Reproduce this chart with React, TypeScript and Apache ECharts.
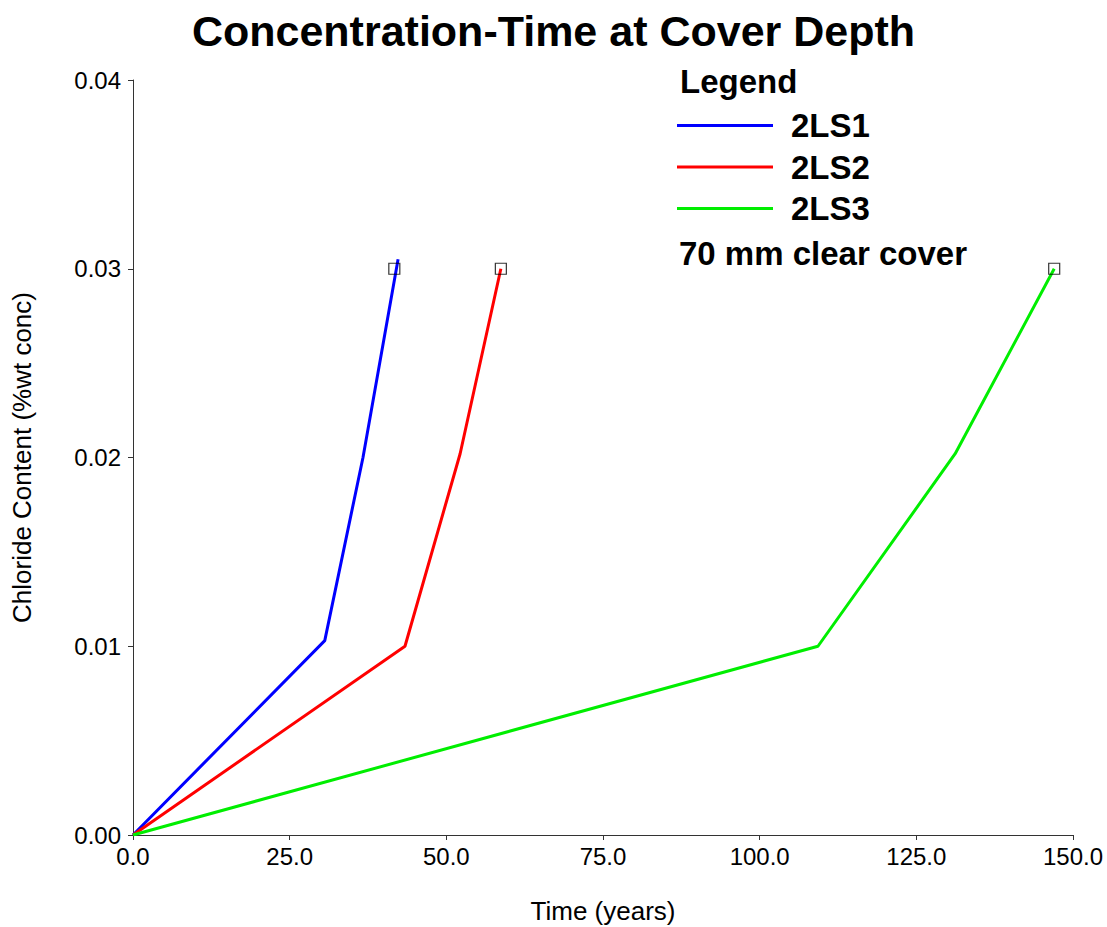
import React, { useEffect, useRef } from "react";
import * as echarts from "echarts";

const seriesNames = ["2LS1", "2LS2", "2LS3"];
const seriesColors = ["#0000ff", "#ff0000", "#00ee00"];
const ls1: [number, number][] = [[0, 0], [30.6, 0.0103], [36.7, 0.0200], [42.3, 0.0305]];
const ls2: [number, number][] = [[0, 0], [43.4, 0.0100], [52.2, 0.0202], [58.7, 0.0300]];
const ls3: [number, number][] = [[0, 0], [109.3, 0.0100], [131.2, 0.0202], [147.0, 0.0300]];
const markers: [number, number][] = [[41.7, 0.03], [58.7, 0.03], [147.0, 0.03]];
const legendTitle = "Legend";
const legendNote = "70 mm clear cover";

export default function App() {
  const ref = useRef<HTMLDivElement>(null);
  useEffect(() => {
    document.body.style.margin = "0";
    const chart = echarts.init(ref.current!, null, { renderer: "svg" });
    const font = "'Liberation Sans', Arial, sans-serif";
    const axisColor = "#333";
    const lines = [ls1, ls2, ls3];
    chart.setOption({
      animation: false,
      backgroundColor: "#fff",
      textStyle: { fontFamily: font },
      title: {
        text: "Concentration-Time at Cover Depth",
        left: "center",
        top: 4,
        textStyle: { fontSize: 43, fontWeight: "bold", color: "#000", fontFamily: font },
      },
      grid: { left: 133, right: 34, top: 80, bottom: 92, containLabel: false, outerBoundsMode: "none" },
      legend: {
        data: seriesNames,
        orient: "vertical",
        left: 672,
        top: 104,
        icon: "rect",
        itemWidth: 96,
        itemHeight: 3,
        itemGap: 8.5,
        textStyle: {
          fontSize: 33,
          lineHeight: 33,
          fontWeight: "bold",
          color: "#000",
          padding: [0, 0, 0, 13],
          fontFamily: font,
        },
      },
      graphic: [
        { type: "text", left: 680, top: 65, style: { text: legendTitle, font: `bold 33px ${font}`, fill: "#000" } },
        { type: "text", left: 679, top: 237, style: { text: legendNote, font: `bold 33px ${font}`, fill: "#000" } },
      ],
      xAxis: {
        type: "value",
        min: 0,
        max: 150,
        interval: 25,
        name: "Time (years)",
        nameLocation: "middle",
        nameGap: 63,
        nameTextStyle: { fontSize: 26, color: "#000" },
        axisLine: { show: true, lineStyle: { color: axisColor, width: 1 } },
        axisTick: { show: true, length: 5, lineStyle: { color: axisColor } },
        axisLabel: { fontSize: 24, color: "#000", margin: 9, formatter: (v: number) => v.toFixed(1) },
        splitLine: { show: false },
      },
      yAxis: {
        type: "value",
        min: 0,
        max: 0.04,
        interval: 0.01,
        name: "Chloride Content (%wt conc)",
        nameLocation: "middle",
        nameGap: 98,
        nameTextStyle: { fontSize: 26, color: "#000" },
        axisLine: { show: true, lineStyle: { color: axisColor, width: 1 } },
        axisTick: { show: true, length: 5, lineStyle: { color: axisColor } },
        axisLabel: { fontSize: 24, color: "#000", margin: 12, formatter: (v: number) => v.toFixed(2) },
        splitLine: { show: false },
      },
      series: [
        ...lines.map((d, i) => ({
          name: seriesNames[i],
          type: "line",
          data: d,
          symbol: "none",
          lineStyle: { color: seriesColors[i], width: 3 },
          itemStyle: { color: seriesColors[i] },
        })),
        {
          name: "markers",
          type: "scatter",
          data: markers,
          symbol: "rect",
          symbolSize: 11,
          itemStyle: { color: "rgba(255,255,255,0)", borderColor: "#000", borderWidth: 1.2 },
          z: 5,
        },
      ],
    });
    return () => chart.dispose();
  }, []);
  return <div ref={ref} style={{ width: 1107, height: 927 }} />;
}
